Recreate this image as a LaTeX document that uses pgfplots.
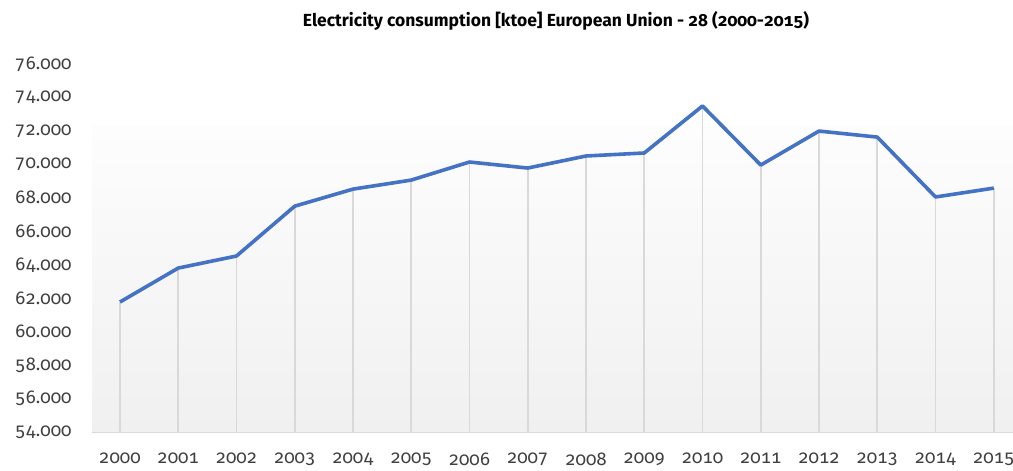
\documentclass[border=0pt]{standalone}
\usepackage{fontspec}
\setmainfont{Fira Sans}[Numbers={OldStyle,Monospaced}]
\usepackage{pgfplots}
\usepackage{pgfplotstable}
\pgfplotsset{compat=1.18}
\definecolor{lineblue}{HTML}{4472C4}
\definecolor{dropgray}{HTML}{D9D9D9}
\definecolor{bgtop}{HTML}{FDFDFD}
\definecolor{bgbot}{HTML}{F0F0F0}
\definecolor{txt}{HTML}{404040}
\pgfplotstableread{
year value
2000 61770
2001 63800
2002 64520
2003 67500
2004 68520
2005 69060
2006 70140
2007 69780
2008 70500
2009 70680
2010 73490
2011 69960
2012 71990
2013 71630
2014 68050
2015 68580
}\datatable
\begin{document}
\begin{tikzpicture}
\begin{axis}[
  name=ax, at={(0,0)}, anchor=south west,
  set layers,
  scale only axis, width=921bp, height=368bp,
  xmin=1999.52, xmax=2015.33, ymin=54000, ymax=76000,
  scaled y ticks=false, scaled x ticks=false,
  axis lines*=left,
  y axis line style={draw=none},
  x axis line style={draw=dropgray, line width=1.5bp},
  major tick length=0pt,
  tick style={draw=none},
  xtick={2000,2001,2002,2003,2004,2005,2006,2007,2008,2009,2010,2011,2012,2013,2014,2015},
  xticklabels={2000,2001,2002,2003,2004,2005,2006,2007,2008,2009,2010,2011,2012,2013,2014,2015},
  ytick={54000,56000,58000,60000,62000,64000,66000,68000,70000,72000,74000,76000},
  yticklabels={54.000,56.000,58.000,60.000,62.000,64.000,66.000,68.000,70.000,72.000,74.000,76.000},
  tick label style={font=\fontsize{18.5bp}{20bp}\selectfont, text=txt},
  yticklabel style={anchor=east, xshift=-17bp},
  xticklabel style={anchor=north, yshift=-17bp},
  clip=false,
]
\fill[top color=bgtop, bottom color=bgbot, on layer=axis background] (rel axis cs:0,0) rectangle (rel axis cs:1,0.83);
\addplot[ycomb, draw=dropgray, line width=1.6bp, mark=none] table[x=year, y=value] {\datatable};
\addplot[lineblue, line width=3.6bp, line join=round, mark=none] table[x=year, y=value] {\datatable};
\end{axis}
\node[font=\bfseries\fontsize{17.5bp}{19bp}\selectfont, text=black] at (464bp,411bp) {Electricity consumption [ktoe] European Union - 28 (2000-2015)};
\pgfresetboundingbox
\useasboundingbox (-92bp,-39bp) rectangle (921bp,432bp);
\end{tikzpicture}
\end{document}
